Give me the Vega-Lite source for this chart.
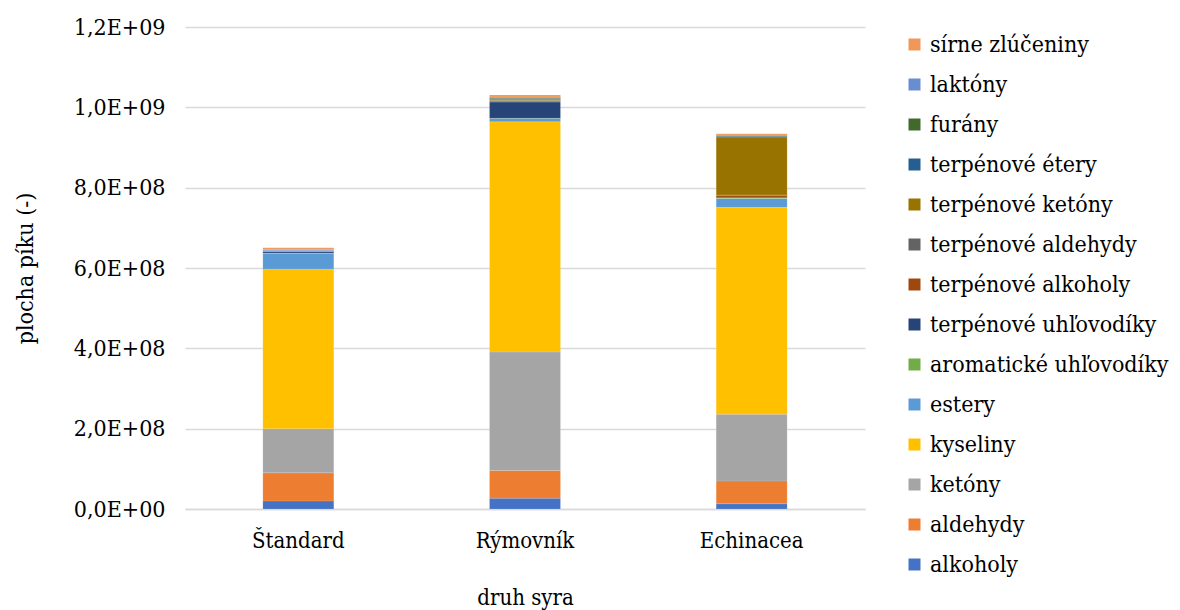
{
  "$schema": "https://vega.github.io/schema/vega-lite/v6.json",
  "width": 680,
  "height": 482,
  "autosize": {"type": "none"},
  "padding": {"left": 185, "top": 27, "right": 315, "bottom": 101},
  "background": "white",
  "config": {
    "view": {"stroke": null}
  },
  "data": {
    "values": [
      {"syr": "Štandard", "skupina": "alkoholy", "i": 1, "plocha": 20000000},
      {"syr": "Štandard", "skupina": "aldehydy", "i": 2, "plocha": 70000000},
      {"syr": "Štandard", "skupina": "ketóny", "i": 3, "plocha": 110000000},
      {"syr": "Štandard", "skupina": "kyseliny", "i": 4, "plocha": 397000000},
      {"syr": "Štandard", "skupina": "estery", "i": 5, "plocha": 40000000},
      {"syr": "Štandard", "skupina": "aromatické uhľovodíky", "i": 6, "plocha": 500000},
      {"syr": "Štandard", "skupina": "terpénové uhľovodíky", "i": 7, "plocha": 4000000},
      {"syr": "Štandard", "skupina": "terpénové alkoholy", "i": 8, "plocha": 500000},
      {"syr": "Štandard", "skupina": "terpénové aldehydy", "i": 9, "plocha": 300000},
      {"syr": "Štandard", "skupina": "terpénové ketóny", "i": 10, "plocha": 300000},
      {"syr": "Štandard", "skupina": "terpénové étery", "i": 11, "plocha": 300000},
      {"syr": "Štandard", "skupina": "furány", "i": 12, "plocha": 300000},
      {"syr": "Štandard", "skupina": "laktóny", "i": 13, "plocha": 2000000},
      {"syr": "Štandard", "skupina": "sírne zlúčeniny", "i": 14, "plocha": 5000000},
      {"syr": "Rýmovník", "skupina": "alkoholy", "i": 1, "plocha": 27000000},
      {"syr": "Rýmovník", "skupina": "aldehydy", "i": 2, "plocha": 69000000},
      {"syr": "Rýmovník", "skupina": "ketóny", "i": 3, "plocha": 295000000},
      {"syr": "Rýmovník", "skupina": "kyseliny", "i": 4, "plocha": 573000000},
      {"syr": "Rýmovník", "skupina": "estery", "i": 5, "plocha": 8000000},
      {"syr": "Rýmovník", "skupina": "aromatické uhľovodíky", "i": 6, "plocha": 1000000},
      {"syr": "Rýmovník", "skupina": "terpénové uhľovodíky", "i": 7, "plocha": 40000000},
      {"syr": "Rýmovník", "skupina": "terpénové alkoholy", "i": 8, "plocha": 2000000},
      {"syr": "Rýmovník", "skupina": "terpénové aldehydy", "i": 9, "plocha": 2000000},
      {"syr": "Rýmovník", "skupina": "terpénové ketóny", "i": 10, "plocha": 3000000},
      {"syr": "Rýmovník", "skupina": "terpénové étery", "i": 11, "plocha": 2000000},
      {"syr": "Rýmovník", "skupina": "furány", "i": 12, "plocha": 2000000},
      {"syr": "Rýmovník", "skupina": "laktóny", "i": 13, "plocha": 2000000},
      {"syr": "Rýmovník", "skupina": "sírne zlúčeniny", "i": 14, "plocha": 5000000},
      {"syr": "Echinacea", "skupina": "alkoholy", "i": 1, "plocha": 13000000},
      {"syr": "Echinacea", "skupina": "aldehydy", "i": 2, "plocha": 57000000},
      {"syr": "Echinacea", "skupina": "ketóny", "i": 3, "plocha": 166000000},
      {"syr": "Echinacea", "skupina": "kyseliny", "i": 4, "plocha": 515000000},
      {"syr": "Echinacea", "skupina": "estery", "i": 5, "plocha": 22000000},
      {"syr": "Echinacea", "skupina": "aromatické uhľovodíky", "i": 6, "plocha": 1000000},
      {"syr": "Echinacea", "skupina": "terpénové uhľovodíky", "i": 7, "plocha": 2000000},
      {"syr": "Echinacea", "skupina": "terpénové alkoholy", "i": 8, "plocha": 5000000},
      {"syr": "Echinacea", "skupina": "terpénové aldehydy", "i": 9, "plocha": 1000000},
      {"syr": "Echinacea", "skupina": "terpénové ketóny", "i": 10, "plocha": 144000000},
      {"syr": "Echinacea", "skupina": "terpénové étery", "i": 11, "plocha": 2000000},
      {"syr": "Echinacea", "skupina": "furány", "i": 12, "plocha": 1000000},
      {"syr": "Echinacea", "skupina": "laktóny", "i": 13, "plocha": 2000000},
      {"syr": "Echinacea", "skupina": "sírne zlúčeniny", "i": 14, "plocha": 3000000}
    ]
  },
  "mark": {"type": "bar", "stroke": "white", "strokeWidth": 0.3, "strokeOpacity": 0.4},
  "encoding": {
    "x": {
      "field": "syr",
      "type": "nominal",
      "sort": ["Štandard", "Rýmovník", "Echinacea"],
      "scale": {"paddingInner": 0.687, "paddingOuter": 0.3435},
      "axis": {
        "title": "druh syra",
        "titleFont": "DejaVu Serif Condensed",
        "titleFontSize": 22,
        "titleFontWeight": "normal",
        "titleColor": "#000000",
        "titlePadding": 36,
        "labelFont": "DejaVu Serif Condensed",
        "labelFontSize": 22,
        "labelColor": "#000000",
        "labelAngle": 0,
        "labelPadding": 21,
        "ticks": false,
        "domainColor": "#D9D9D9",
        "domainWidth": 1.5
      }
    },
    "y": {
      "field": "plocha",
      "type": "quantitative",
      "stack": "zero",
      "scale": {"domain": [0, 1200000000], "nice": false},
      "axis": {
        "title": "plocha píku (-)",
        "titleFont": "DejaVu Serif Condensed",
        "titleFontSize": 23,
        "titleFontWeight": "normal",
        "titleColor": "#000000",
        "titlePadding": 36,
        "values": [0, 200000000, 400000000, 600000000, 800000000, 1000000000, 1200000000],
        "labelExpr": "datum.value == 0 ? '0,0E+00' : replace(format(datum.value / pow(10, floor(log(datum.value) / LN10 + 1e-9)), '.1f'), '.', ',') + 'E+' + (floor(log(datum.value) / LN10 + 1e-9) < 10 ? '0' : '') + floor(log(datum.value) / LN10 + 1e-9)",
        "labelFont": "DejaVu Serif Condensed",
        "labelFontSize": 23,
        "labelColor": "#000000",
        "labelPadding": 20,
        "ticks": false,
        "domain": false,
        "grid": true,
        "gridColor": "#D9D9D9",
        "gridWidth": 1.5
      }
    },
    "color": {
      "field": "skupina",
      "type": "nominal",
      "scale": {
        "domain": ["sírne zlúčeniny", "laktóny", "furány", "terpénové étery", "terpénové ketóny", "terpénové aldehydy", "terpénové alkoholy", "terpénové uhľovodíky", "aromatické uhľovodíky", "estery", "kyseliny", "ketóny", "aldehydy", "alkoholy"],
        "range": ["#F1975A", "#698ED0", "#43682B", "#255E91", "#997300", "#636363", "#9E480E", "#264478", "#70AD47", "#5B9BD5", "#FFC000", "#A5A5A5", "#ED7D31", "#4472C4"]
      },
      "legend": {
        "title": null,
        "orient": "none",
        "legendX": 718,
        "legendY": 6,
        "symbolType": "square",
        "symbolSize": 144,
        "symbolStrokeWidth": 0,
        "labelFont": "DejaVu Serif Condensed",
        "labelFontSize": 23,
        "labelColor": "#000000",
        "labelOffset": 4,
        "labelLimit": 400,
        "rowPadding": 16
      }
    },
    "order": {"field": "i", "type": "quantitative"}
  }
}
